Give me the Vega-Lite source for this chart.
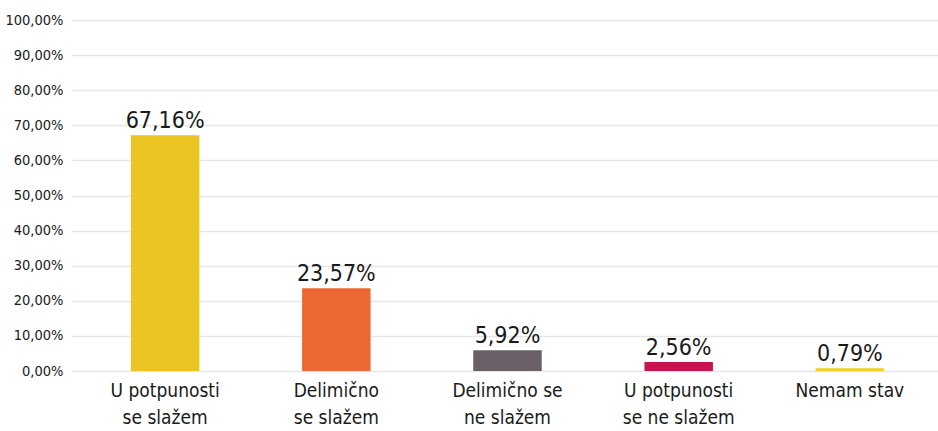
{
  "$schema": "https://vega.github.io/schema/vega-lite/v6.json",
  "width": 873,
  "height": 351,
  "autosize": {"type": "none"},
  "padding": {"left": 71, "top": 20, "right": 0, "bottom": 60},
  "background": "white",
  "config": {
    "locale": {"number": {"decimal": ",", "thousands": ".", "grouping": [3], "currency": ["", " €"]}},
    "view": {"stroke": null},
    "font": "'DejaVu Sans Condensed', Roboto, sans-serif"
  },
  "data": {
    "values": [
      {"kategorija": "U potpunosti|se slažem", "udeo": 0.6716, "boja": "#EBC524"},
      {"kategorija": "Delimično|se slažem", "udeo": 0.2357, "boja": "#EC6833"},
      {"kategorija": "Delimično se|ne slažem", "udeo": 0.0592, "boja": "#6B6068"},
      {"kategorija": "U potpunosti|se ne slažem", "udeo": 0.0256, "boja": "#C8134F"},
      {"kategorija": "Nemam stav", "udeo": 0.0079, "boja": "#F2D21A"}
    ]
  },
  "encoding": {
    "x": {
      "field": "kategorija",
      "type": "nominal",
      "sort": null,
      "scale": {"paddingInner": 0.6, "paddingOuter": 0.35},
      "axis": {
        "title": null,
        "domain": false,
        "ticks": false,
        "labelAngle": 0,
        "labelExpr": "split(datum.label, '|')",
        "labelFontSize": 19,
        "labelColor": "#1a1a1a",
        "labelPadding": 10,
        "labelLineHeight": 27,
        "labelOverlap": false,
        "labelFont": "'DejaVu Sans Condensed', Roboto, sans-serif"
      }
    },
    "y": {
      "field": "udeo",
      "type": "quantitative",
      "scale": {"domain": [0, 1]},
      "axis": {
        "title": null,
        "format": ".2%",
        "values": [0, 0.1, 0.2, 0.3, 0.4, 0.5, 0.6, 0.7, 0.8, 0.9, 1],
        "domain": false,
        "ticks": false,
        "grid": true,
        "gridColor": "#e6e6e6",
        "gridWidth": 1.5,
        "labelFontSize": 14.5,
        "labelColor": "#1a1a1a",
        "labelPadding": 8,
        "labelOverlap": false,
        "labelFont": "'DejaVu Sans Condensed', Roboto, sans-serif"
      }
    }
  },
  "layer": [
    {
      "mark": {"type": "bar"},
      "encoding": {
        "color": {"field": "boja", "type": "nominal", "scale": null, "legend": null}
      }
    },
    {
      "mark": {"type": "text", "baseline": "alphabetic", "dy": -7, "fontSize": 23, "color": "#1a1a1a", "font": "'DejaVu Sans Condensed', Roboto, sans-serif"},
      "encoding": {
        "text": {"field": "udeo", "type": "quantitative", "format": ".2%"}
      }
    }
  ]
}
